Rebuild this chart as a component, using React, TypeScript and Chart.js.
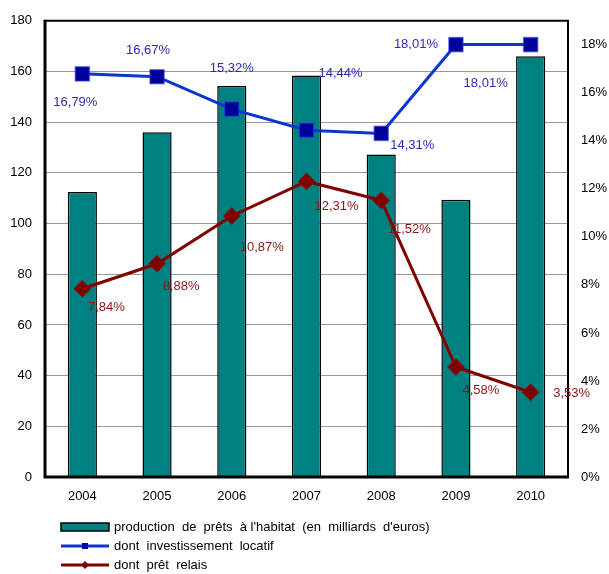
import React, { useEffect, useRef } from "react";
import { Chart, registerables } from "chart.js";

Chart.register(...registerables);

const years = ["2004", "2005", "2006", "2007", "2008", "2009", "2010"];
// production de prêts à l'habitat, en milliards d'euros
const production = [112.5, 136, 154.3, 158.4, 127.2, 109.4, 166];
// parts en %
const investissementLocatif = [16.79, 16.67, 15.32, 14.44, 14.31, 18.01, 18.01];
const pretRelais = [7.84, 8.88, 10.87, 12.31, 11.52, 4.58, 3.53];

const leftTicksMax = 180;
const rightTicksMax = 19;

// label placement relative to each point (px)
const investOffsets: [number, number][] = [
  [-7, 29], [-9, -26], [0, -41], [34, -57], [31, 12], [-40, 0], [-45, 39],
];
const relaisOffsets: [number, number][] = [
  [24, 19], [24, 23], [30, 31], [30, 25], [28, 29], [25, 23], [41, 1],
];

const FONT = "'Liberation Sans', Arial, sans-serif";
const TEAL = "#008080";
const BLUE_LINE = "#0a35d0";
const BLUE_MARK = "#000099";
const BLUE_TEXT = "#2a2ab4";
const RED = "#800000";
const RED_TEXT = "#8c1414";

const fmtPct = (v: number) => v.toFixed(2).replace(".", ",") + "%";

const framePlugin = {
  id: "frame",
  afterDatasetsDraw(chart: any) {
    const { ctx, chartArea: a } = chart;
    ctx.save();
    ctx.strokeStyle = "#000";
    ctx.lineWidth = 2;
    ctx.beginPath();
    ctx.moveTo(a.left, a.top);
    ctx.lineTo(a.right, a.top);
    ctx.lineTo(a.right, a.bottom);
    ctx.stroke();
    ctx.lineWidth = 3;
    ctx.beginPath();
    ctx.moveTo(a.left, a.top - 1);
    ctx.lineTo(a.left, a.bottom);
    ctx.lineTo(a.right + 1, a.bottom);
    ctx.stroke();
    ctx.restore();
  },
};

const valueLabelPlugin = {
  id: "valueLabels",
  afterDatasetsDraw(chart: any) {
    const { ctx } = chart;
    ctx.save();
    ctx.font = `13px ${FONT}`;
    ctx.textAlign = "center";
    ctx.textBaseline = "middle";
    chart.data.datasets.forEach((ds: any, di: number) => {
      if (!ds.labelOffsets) return;
      const meta = chart.getDatasetMeta(di);
      ctx.fillStyle = ds.labelColor;
      meta.data.forEach((pt: any, i: number) => {
        const [dx, dy] = ds.labelOffsets[i];
        ctx.fillText(fmtPct(ds.data[i]), pt.x + dx, pt.y + dy);
      });
    });
    ctx.restore();
  },
};

const legendPlugin = {
  id: "customLegend",
  afterDraw(chart: any) {
    const { ctx } = chart;
    const ds = chart.data.datasets;
    const x0 = 61;
    const x1 = 109;
    const rows = [527, 546, 565];
    ctx.save();
    ctx.font = `13px ${FONT}`;
    ctx.textBaseline = "middle";
    ctx.textAlign = "left";
    // bar entry
    ctx.fillStyle = TEAL;
    ctx.strokeStyle = "#000";
    ctx.lineWidth = 1.5;
    ctx.fillRect(x0, rows[0] - 4, x1 - x0, 8);
    ctx.strokeRect(x0, rows[0] - 4, x1 - x0, 8);
    // blue line entry
    ctx.strokeStyle = BLUE_LINE;
    ctx.lineWidth = 3;
    ctx.beginPath();
    ctx.moveTo(x0, rows[1]);
    ctx.lineTo(x1, rows[1]);
    ctx.stroke();
    ctx.fillStyle = BLUE_MARK;
    ctx.fillRect((x0 + x1) / 2 - 3, rows[1] - 3, 6, 6);
    // red line entry
    ctx.strokeStyle = RED;
    ctx.beginPath();
    ctx.moveTo(x0, rows[2]);
    ctx.lineTo(x1, rows[2]);
    ctx.stroke();
    ctx.fillStyle = RED;
    const cx = (x0 + x1) / 2;
    ctx.beginPath();
    ctx.moveTo(cx, rows[2] - 4);
    ctx.lineTo(cx + 4, rows[2]);
    ctx.lineTo(cx, rows[2] + 4);
    ctx.lineTo(cx - 4, rows[2]);
    ctx.closePath();
    ctx.fill();
    ctx.fillStyle = "#000";
    ds.forEach((d: any, i: number) => {
      ctx.fillText(d.label, x1 + 5, rows[i]);
    });
    ctx.restore();
  },
};

export default function App() {
  const ref = useRef<HTMLCanvasElement>(null);

  useEffect(() => {
    document.body.style.margin = "0";
    const chart = new Chart(ref.current as HTMLCanvasElement, {
      type: "bar",
      data: {
        labels: years,
        datasets: [
          {
            type: "bar",
            label: "production  de  prêts  à l'habitat  (en  milliards  d'euros)",
            data: production,
            backgroundColor: TEAL,
            borderColor: "#000",
            borderWidth: 1.5,
            categoryPercentage: 1,
            barPercentage: 0.39,
            yAxisID: "y",
            order: 2,
          },
          {
            type: "line",
            label: "dont  investissement  locatif",
            data: investissementLocatif,
            borderColor: BLUE_LINE,
            borderWidth: 3,
            pointStyle: "rect",
            pointRadius: 10,
            pointBackgroundColor: BLUE_MARK,
            pointBorderColor: "rgba(40,60,220,0.55)",
            pointBorderWidth: 1.5,
            yAxisID: "y2",
            order: 1,
            labelOffsets: investOffsets,
            labelColor: BLUE_TEXT,
          } as any,
          {
            type: "line",
            label: "dont  prêt  relais",
            data: pretRelais,
            borderColor: RED,
            borderWidth: 3,
            pointStyle: "rectRot",
            pointRadius: 8.5,
            pointBackgroundColor: RED,
            pointBorderColor: "rgba(140,20,20,0.6)",
            pointBorderWidth: 1,
            yAxisID: "y2",
            order: 1,
            labelOffsets: relaisOffsets,
            labelColor: RED_TEXT,
          } as any,
        ],
      },
      options: {
        responsive: false,
        animation: false,
        layout: { padding: { top: 19, left: 0, right: 0, bottom: 0 } },
        plugins: {
          legend: { display: false },
          tooltip: { enabled: false },
        },
        scales: {
          x: {
            grid: { display: false, drawTicks: false },
            border: { display: false },
            ticks: {
              padding: 12,
              color: "#000",
              font: { family: FONT, size: 13 },
              maxRotation: 0,
            },
            afterFit: (s: any) => {
              s.height = 97;
            },
          },
          y: {
            position: "left",
            min: 0,
            max: leftTicksMax,
            grid: { color: "#999", lineWidth: 1, drawTicks: false },
            border: { display: false },
            ticks: {
              stepSize: 20,
              padding: 13,
              color: "#000",
              font: { family: FONT, size: 13 },
            },
            afterFit: (s: any) => {
              s.width = 45;
            },
          },
          y2: {
            position: "right",
            min: 0,
            max: rightTicksMax,
            grid: { display: false, drawTicks: false },
            border: { display: false },
            ticks: {
              stepSize: 2,
              padding: 13,
              color: "#000",
              font: { family: FONT, size: 13 },
              callback: (v: any) => v + "%",
            },
            afterBuildTicks: (s: any) => {
              s.ticks = s.ticks.filter((t: any) => t.value % 2 === 0);
            },
            afterFit: (s: any) => {
              s.width = 41;
            },
          },
        },
      },
      plugins: [framePlugin, valueLabelPlugin, legendPlugin],
    });
    return () => chart.destroy();
  }, []);

  return (
    <canvas
      ref={ref}
      width={609}
      height={574}
      style={{ display: "block", width: 609, height: 574 }}
    />
  );
}
